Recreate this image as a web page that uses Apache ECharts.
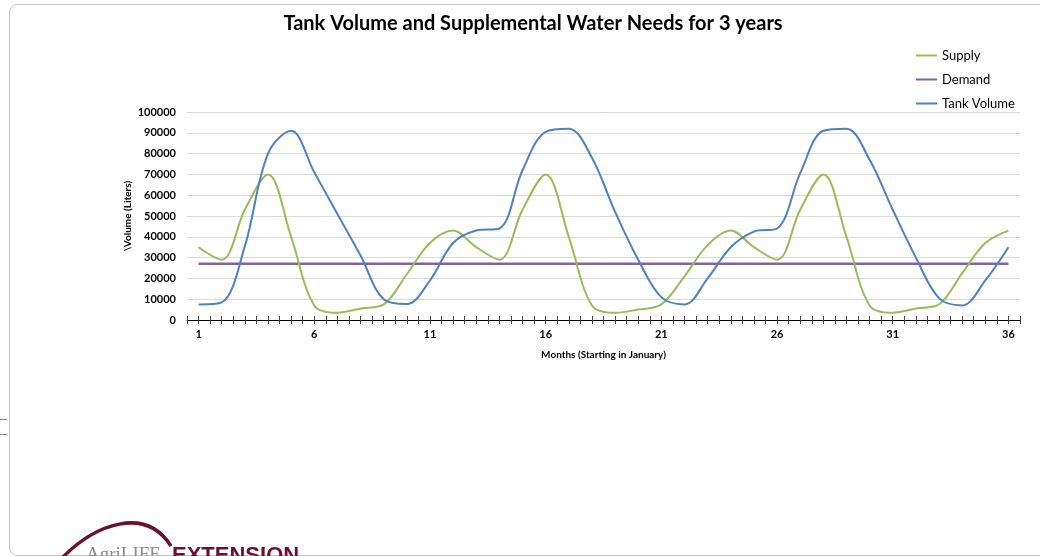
<!DOCTYPE html>
<html>
<head>
<meta charset="utf-8">
<title>Tank Volume and Supplemental Water Needs for 3 years</title>
<script src="https://cdn.jsdelivr.net/npm/echarts@6/dist/echarts.min.js"></script>
<style>
  html, body { margin: 0; padding: 0; background: #ffffff; }
  #chart { width: 1040px; height: 556px; }
</style>
</head>
<body>
<div id="chart"></div>
<script>
// Month index along the x axis (three years, starting in January)
const months = [1,2,3,4,5,6,7,8,9,10,11,12,13,14,15,16,17,18,19,20,21,22,23,24,25,26,27,28,29,30,31,32,33,34,35,36];
const monthLabels = ['1','6','11','16','21','26','31','36'];

// Monthly rainwater supply (liters)
const supply = [35000, 29000, 53000, 70000, 40000, 7000, 3500, 5500, 7500, 22000, 37000, 43000,
                35000, 29000, 53000, 70000, 40000, 7000, 3500, 5000, 7500, 21000, 36000, 43000,
                35000, 29000, 53000, 70000, 40000, 7000, 3500, 5500, 7500, 22500, 37000, 43000];

// Monthly household demand (liters)
const demand = [27000, 27000, 27000, 27000, 27000, 27000, 27000, 27000, 27000, 27000, 27000, 27000,
                27000, 27000, 27000, 27000, 27000, 27000, 27000, 27000, 27000, 27000, 27000, 27000,
                27000, 27000, 27000, 27000, 27000, 27000, 27000, 27000, 27000, 27000, 27000, 27000];

// Volume held in the tank at the end of each month (liters)
const tankVolume = [7500, 8500, 35500, 80000, 91000, 71000, 51000, 31000, 10000, 7700, 19000, 37000,
                    43000, 44000, 72000, 90500, 92000, 78000, 52000, 29000, 11000, 7500, 20000, 35000,
                    42500, 44000, 70500, 91000, 92000, 77000, 53000, 30000, 10500, 7000, 19000, 35000];

const yTicks = [0, 10000, 20000, 30000, 40000, 50000, 60000, 70000, 80000, 90000, 100000];

const FONT = 'Lato, "Open Sans", sans-serif';
const pairs = (vals) => months.map((m, i) => [m, vals[i]]);

const chart = echarts.init(document.getElementById('chart'), null, { renderer: 'canvas' });

const xBase = {
  type: 'value',
  min: 0.5,
  max: 36.5,
  interval: 0.5,
  position: 'bottom',
  splitLine: { show: false }
};

chart.setOption({
  animation: false,
  backgroundColor: '#ffffff',
  title: {
    text: 'Tank Volume and Supplemental Water Needs for 3 years',
    left: 528,
    textAlign: 'center',
    top: 9,
    textStyle: { fontFamily: FONT, fontWeight: 'bold', fontSize: 20, color: '#000000' }
  },
  legend: {
    orient: 'vertical',
    left: 916,
    top: 49,
    padding: 0,
    itemWidth: 21,
    itemHeight: 2,
    itemGap: 11,
    icon: 'rect',
    textStyle: { fontFamily: FONT, fontSize: 13, color: '#000000' },
    data: ['Supply', 'Demand', 'Tank Volume']
  },
  grid: { left: 187, right: 20, top: 112, bottom: 236, containLabel: false },
  xAxis: [
    Object.assign({}, xBase, {
      name: 'Months (Starting in January)',
      nameLocation: 'middle',
      nameGap: 30,
      nameTextStyle: { fontFamily: FONT, fontWeight: 'bold', fontSize: 10, color: '#000000' },
      axisLine: { show: true, lineStyle: { color: '#000000', width: 1 } },
      axisTick: { show: true, inside: false, length: 4, lineStyle: { color: '#444444' } },
      axisLabel: {
        margin: 9,
        fontFamily: FONT, fontWeight: 'bold', fontSize: 11, color: '#000000',
        formatter: (v) => {
          const s = String(v);
          return monthLabels.indexOf(s) >= 0 ? s : '';
        }
      }
    }),
    Object.assign({}, xBase, {
      axisLine: { show: false },
      axisTick: { show: true, inside: true, length: 4, lineStyle: { color: '#444444' } },
      axisLabel: { show: false }
    })
  ],
  yAxis: {
    type: 'value',
    min: yTicks[0],
    max: yTicks[yTicks.length - 1],
    interval: yTicks[1] - yTicks[0],
    name: '\\Volume (Liters)',
    nameLocation: 'middle',
    nameGap: 54,
    nameMoveOverlap: false,
    nameTextStyle: { fontFamily: FONT, fontWeight: 'bold', fontSize: 10, color: '#000000' },
    axisLine: { show: false },
    axisTick: { show: false },
    axisLabel: {
      margin: 11, fontFamily: FONT, fontWeight: 'bold', fontSize: 11, color: '#000000',
      formatter: (v) => String(v)
    },
    splitLine: { show: true, lineStyle: { color: '#d9d9d9', width: 1 } }
  },
  series: [
    {
      name: 'Supply', type: 'line', smooth: 0.35, showSymbol: false,
      data: pairs(supply), color: '#9BBB59', lineStyle: { width: 2 }, z: 3
    },
    {
      name: 'Demand', type: 'line', smooth: false, showSymbol: false,
      data: pairs(demand), color: '#8064A2', lineStyle: { width: 2.5 }, z: 2
    },
    {
      name: 'Tank Volume', type: 'line', smooth: 0.35, showSymbol: false,
      data: pairs(tankVolume), color: '#4F81BD', lineStyle: { width: 2 }, z: 4
    }
  ],
  graphic: [
    // page frame around the chart
    { type: 'rect', left: 7, top: 2, silent: true,
      shape: { x: 0, y: 0, width: 1100, height: 551, r: 8 },
      style: { fill: 'none', stroke: '#c4c4c4', lineWidth: 1 } },
    { type: 'line', silent: true, shape: { x1: 0, y1: 419.5, x2: 7, y2: 419.5 },
      style: { stroke: '#888888', lineWidth: 1 } },
    { type: 'line', silent: true, shape: { x1: 0, y1: 434.5, x2: 7, y2: 434.5 },
      style: { stroke: '#888888', lineWidth: 1 } },
    // extension logo swoosh and lettering at the foot of the page
    { type: 'bezierCurve', silent: true,
      shape: { x1: 63, y1: 557, cpx1: 95, cpy1: 525, cpx2: 145, cpy2: 505, x2: 171, y2: 546 },
      style: { stroke: '#6b1030', lineWidth: 3.5, fill: 'none' } },
    { type: 'text', silent: true, left: 86, top: 546,
      style: { text: 'AgriLIFE', font: '19px "Liberation Serif", "DejaVu Serif", serif', fill: '#8a8a8a' } },
    { type: 'text', silent: true, left: 172, top: 545,
      style: { text: 'EXTENSION', font: 'bold 22px "Liberation Sans", Arial, sans-serif', fill: '#6b1030' } }
  ]
});
</script>
</body>
</html>
